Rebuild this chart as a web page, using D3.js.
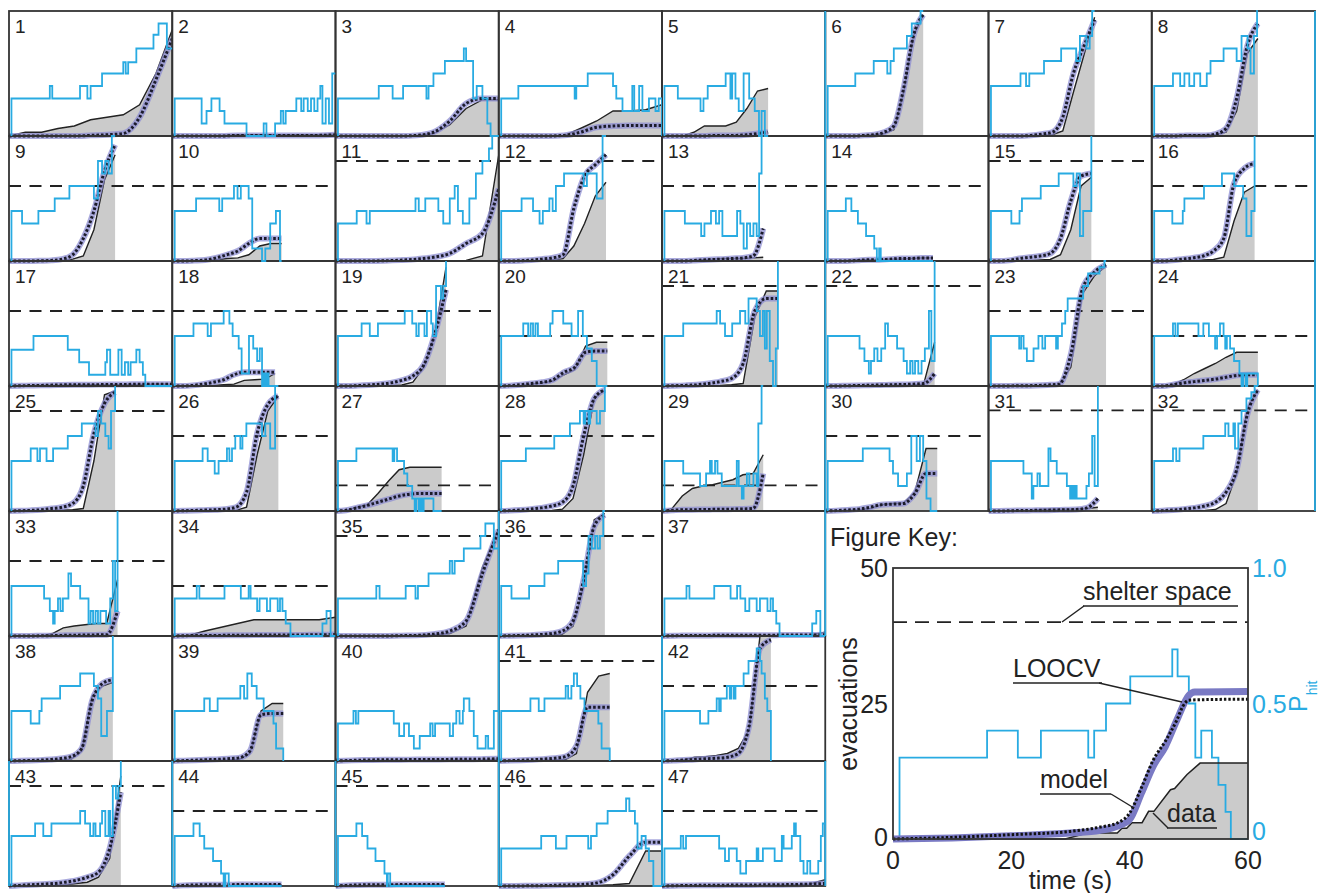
<!DOCTYPE html>
<html><head><meta charset="utf-8">
<script src="https://cdn.jsdelivr.net/npm/d3@7"></script>
<style>body{margin:0;background:#fff}svg{display:block}text{font-family:"Liberation Sans",Arial,Helvetica,sans-serif}</style>
</head><body><svg id="c" width="1322" height="893"></svg>
<script>
// ---------------- DATA (per-panel units: time as % of panel width, values as % of panel height) -------------
const panelLabels = ["1","2","3","4","5","6","7","8","9","10","11","12","13","14","15","16","17","18","19","20","21","22","23","24","25","26","27","28","29","30","31","32","33","34","35","36","37","38","39","40","41","42","43","44","45","46","47"];
// end of recorded data (x, % of panel width)
const dataEnd = [100,100,100,100,65,60,65,65, 65,67,100,65.7,62,66,63,63, 100,63,67.7,66.5,71,67,72,65, 65,65,65,65,62,68.6,67,65, 66.5,100,100,65,100, 63.6,68,100,68,66.7, 68.5,67,67,100,100];
// shelter space level (% of panel height), null = none
const shelterLevel = [null,null,null,null,null,null,null,null, 60,60,80,80,60,60,80,60, 60,60,60,40,80,80,60,40, 80,60,20.5,60,20.5,60,80.5,80.5, 60,40,80,80,null, null,null,null,80,60, 80,60,80,80,60];
// cumulative evacuations, data (11 samples evenly spaced over [0, dataEnd])
const evacData = [
[0,3,3,6,8,13,15,17,25,50,85],[0,0,0,0.5,1,1,1,1,1,1,1.5],[0,0,0,0,0,0.5,2,9,22,29,29],[0,0,0,0,0.3,6,12,20,20,21,25],
[0,0,0,3,8,8,8,11,22,36,38],[0,0,0,0,0.5,1,2,5,35,80,97],[0,0,0,0,0,0.5,1,4,35,65,95],[0,0,0,1,1,1,1,3,20,66,78],
[0,0,0,0,0,0.3,1.5,4,25,65,85],[0,0,0,0.3,1,2,2.5,5,12,14,14],[0,0,0,0,0,0,0,0,0.5,4,85],[0,0,0,0.3,0.5,1,2,12,30,52,63],
[0,0,0,0.5,1,1.5,2,2,2,2.5,3],[0,0,0.5,1,1,1,1.5,1.5,2,2.5,2.5],[0,0,0,0,0.5,0.8,1.2,5,25,60,67],[0,0,0,0,0.5,0.8,1.2,3,32,55,60],
[0,0.3,0.5,0.5,0.8,1,1,1,1.2,1.5,1.5],[0,0,0,0.3,0.5,1,1.5,4.5,5,5.5,10],[0,0,0,0,0.2,0.4,0.8,3,15,42,95],[0,0,0.3,1.5,2.5,4,9,13,32,35,35],
[0,0,0,0.1,0.2,0.4,1,2,55,76,76],[0,0,0,0,0.2,0.4,0.5,0.6,0.8,1.5,35],[0,0,0,0,0.2,0.4,0.7,15,74,88,96],[0,0,1,5,10,14,18,23,27,27,27],
[0,0,0,0.3,0.5,0.8,1,2,40,93,96],[0,0,0,0.2,0.3,0.4,0.5,3,45,80,92],[0,0.5,3,5,14,24,33,35,35,35,35],[0,0,0,0,0.2,0.4,1.5,10,45,90,97],
[0,2,12,18,20,21,23,25,29,30,45],[0,0,0.5,1,2,5,6,6.5,15,50,50],[0,0,0,0.3,0.5,1.5,1.5,1.5,1.5,2,3],[0,0,0,0.1,0.3,0.5,1.2,6,30,82,97],
[0,0,0,0,2,6.5,8,9,10,10,45],[0,0.5,4,7,10,13,13,13,13,13,15],[0,0,0,0,0,0.5,1,2,8,55,86],[0,0,0,0,0.2,0.6,1.5,8,40,93,98],[0,0.2,0.3,0.4,0.5,0.5,0.5,0.5,0.5,0.6,3],
[0,0,0,0,0.5,1,1.5,8,52,60,63],[0,0,0.3,0.5,0.6,0.8,1.2,6,40,46,46],[0,0.2,0.3,0.4,0.5,0.5,0.6,0.6,0.7,0.8,1.5],[0,0,0,0.2,0.5,0.8,1.2,6,55,68,70],[0,0,1,3,3.5,4.5,6,10,25,100,100],
[0,0,0,0.3,0.5,1,2,3,7,22,88],[0,0,0.2,0.3,0.5,0.5,0.6,0.8,1,1,1],[0,0,0.2,0.3,0.5,0.8,1,1,1,1,1],[0,0,0,0,0,0.3,0.5,1,2,28,28],[0,0,0,0.2,0.3,0.4,0.5,0.6,0.8,1.5,5]
];
// model prediction (LOOCV coincides with it in the small panels)
const modelFit = [
[0,0,0,0,0,0.5,1,2,15,45,78],[0,0,0,0,0.5,0.5,0.5,0.5,0.5,0.5,1],[0,0,0,0,0,0.5,3,12,26,30,30],[0,0,0,0,0.5,3,7,8,8.5,8.5,8.5],
[0,0,0,0,0,0.5,0.5,0.5,1,2,3],[0,0,0,0,0.5,1,3,8,38,80,97],[0,0,0,0,0.5,1.5,3,15,50,72,93],[0,0,0,0.3,0.5,0.5,1.5,6,30,72,90],
[0,0,0,0.2,0.5,1.5,5,18,40,72,93],[0,0,0.3,0.8,2.5,5,8,14,18,18,18],[0,0,0,0.2,0.7,1.5,3,6,14,22,58],[0,0,0.2,0.7,1.5,2.5,5,42,68,77,85],
[0,0,0,0.3,0.8,1.2,1.5,2,2.5,4,26],[0,0,0,0.5,1,1,1.5,2,2,2.5,2.5],[0,0,0.5,2,3,4,6,18,48,68,70],[0,0,0.5,1.5,2.5,4,8,18,62,74,78],
[0,0.3,0.5,0.8,1,1,1.2,1.2,1.5,1.5,1.5],[0,0,0.5,1.5,3,5,9,11,11,11,11],[0,0,0.3,0.8,1.5,2.5,4.5,8,17,42,77],[0,0.3,1,2,3,5,11,15,27,28,28],
[0,0.2,0.5,1,2,3.5,6,18,60,70,70],[0,0,0.2,0.4,0.6,0.8,1,1.2,1.5,2,10],[0,0,0.1,0.2,0.4,0.8,1.5,25,78,91,97],[0,0,1,2.5,3.5,4.5,5.5,7,8.5,9,9],
[0,0.2,0.5,1,2,3,6,20,62,86,95],[0,0.2,0.4,0.7,1,1.5,3,15,62,85,92],[0,0.6,2.5,4.5,7,9.5,12,13.5,14,14,14],[0,0.3,0.8,1.5,2.5,4,7,20,60,90,97],
[0,0.5,1,1,1.2,1.3,1.4,1.5,1.6,2,30],[0,0.3,0.8,1.5,3,5,5.5,6,14,30,30],[0,0,0.2,0.4,0.5,0.6,0.8,1,1.2,2.5,10],[0,0.3,0.8,1.5,2.5,4,7,15,33,77,97],
[0,0,0,0.2,0.3,0.5,0.6,0.8,0.9,1,20],[0,0.3,0.5,0.5,0.6,0.7,0.8,0.8,0.9,1,1.2],[0,0,0,0,0.3,0.5,1.5,4,12,50,85],[0,0.2,0.4,0.7,1.2,2,4,12,45,88,97],[0,0.3,0.5,0.5,0.6,0.6,0.7,0.7,0.8,0.8,1],
[0,0.2,0.4,0.7,1.2,2,3.5,10,48,62,65],[0,0.3,0.6,1,1.3,1.8,2.5,8,37,38,38],[0,0.5,0.8,1,1,1.2,1.2,1.3,1.4,1.5,1.8],[0,0.3,0.6,1,1.5,2.2,3.5,12,43,43,43],[0,0.3,0.8,1.2,1.8,2.2,3,6,28,90,97],
[0,0.5,1,1.5,2,3,4.5,7,11,30,75],[0,0.5,0.8,1,1,1,1.2,1.2,1.3,1.3,1.3],[0,0.5,0.8,1,1,1,1.2,1.3,1.3,1.3,1.3],[0,0,0.2,0.4,0.8,1.2,2.5,9,24,35,35],[0,0.3,0.5,0.6,0.7,0.8,0.9,1,1.2,1.5,2]
];
// P_hit step change points: [time%, P%, time%, P%, ...]
const phitSteps = [
[0,30,25,40,26.5,30,43.5,40,48,30,50,40,57,50,70,59,71.5,50,73,59,78,70,88.5,81,91.6,90,96.7,70],
[0,30,18,10,21,20,24,30,29,20,32,10,45.5,0,56,10,57.7,0,63,10,66.5,20,68,10,69.5,20,76,30,79,20,80.5,30,83,20,85,30,87,20,89,30,90.7,40,92,10,94,30,96,10,98,50],
[0,30,26.5,40,35,30,41.4,40,55.7,30,57,40,60,50,67,60,78.6,70,80,60,84.3,30,86.5,40,90,30,93,10,95,0],
[0,30,12,40,46.5,30,47.5,40,54.5,50,70,40,72,30,75.8,20,81.8,40,83,20,86,40,88,20,92,30,96,20,98,30],
[0,40,9.7,30,23.6,20,25.4,30,28,40,39,50,41.9,30,43,50,45,30,47,20,50,50,53.4,30,56.8,20,59.4,0,61,20,63,0],
[0,40,18.4,50,29.7,60,38,50,40,60,42,70,50,80,53,90,58.4,100],
[0,40,19.6,50,23,40,25,50,34,60,44.5,70,53.7,60,56,80,60,70,62,80,63.5,100],
[0,40,13,50,17.4,40,20,50,23,40,26,50,29.7,40,33.7,50,36,60,44,70,52,60,55,80,58.7,70,60.5,50,62.6,80,64.5,100],
[0,40,8,30,18,40,28,50,37,60,52,50,54.5,80,57,70,59,80,61,70,63,100],
[0,40,14.6,50,28.8,40,30.6,50,37.8,60,40,50,42,60,46.8,50,49,10,55,0,57,10,60,30,63.5,40,66,0],
[0,30,13,40,19,30,21,40,49,50,51,40,55,50,63,40,66,30,70,50,73,60,75,40,78,30,82,50,86,70,90,80,94,90,96,100],
[0,40,14,50,21,40,25,30,27,40,31,50,33,40,35,60,40,70,52,60,54,70,60,50,63.6,100],
[0,40,14,30,24,20,26,30,30,40,33,30,35,40,37,20,46,40,48,30,50,10,52,30,54,20,56,30,58,20,59.5,70,61,100],
[0,40,12.6,50,16,40,20,30,25,20,30,10,31.6,0,33,10,34,0],
[0,40,14,30,19,40,20.5,50,32,60,43,70,52,60,54,70,56,20,58,40],
[0,40,12.6,30,19,40,20,50,32,60,43,70,50.5,60,56,50,58,20,61,40],
[0,29,15,40,36,29,43,19,49,9,59,19,60,29,62,9,67,29,69,9,71,19,73,9,74.5,19,78,29,80,19,82,9,83.5,0],
[0,40,13,50,21.7,40,23.7,50,31.5,60,35,50,37,40,40.7,30,42.5,10,47,40,49.6,30,52,20,53.6,30,55,0,56,10,57,0,58,10,59,0],
[0,40,16,50,21,40,26,50,42.4,60,47,50,49.5,40,51,50,54.5,40,56,60,58.6,50,59.6,40,61.6,80,64.6,70,66,80],
[0,40,15,50,18,40,19.5,50,21,40,22.5,50,24,40,31.5,50,33,60,39.5,50,44.6,40,48.6,60,51.5,40,54,30,57,20,60,0],
[0,40,13,50,33.5,60,35.6,50,38.6,40,43,50,47.8,60,51,50,53,70,58,60,60,40,61.8,60,63,30,64.2,60,66,20,68,0,69.7,30],
[0,40,21,30,24,20,26.7,10,28,20,30,30,32,20,34.3,30,36.7,50,38.4,40,44,30,48,20,50,10,52,20,53.5,10,55,20,57,10,59,20,61,30,63.5,60,65,20],
[0,40,18.8,30,20,40,21.5,30,23.5,20,27.6,30,30.6,40,33,30,34.7,40,41.4,30,42.5,40,45,50,47,60,48.5,70,58,80,61,90,68,95,71,100],
[0,40,13,50,14.5,40,16,50,28.6,40,31.6,50,35,40,38.8,30,40,40,41.8,50,44,40,45,30,46,40,48,30,50.4,20,53.7,10,55,0,56,10,57.5,0,58.5,10],
[0,40,13.3,50,17.4,40,19,50,23,40,27,50,36,60,44.6,70,53,60,54.5,80,56.5,70,59,60,61,50,62.5,80],
[0,40,18.6,50,21.7,40,26,30,28.4,40,33.5,50,35,40,36.6,50,38.6,60,41.7,50,43,60,45.4,70,55,60,57,70,60,50,63,100],
[0,40,12.8,50,35,40,36,50,37.7,40,42,30,44,20,47,10,48.5,0,49.5,10,51,0,52,10,53,0,54,10,60,0],
[0,40,16.6,50,34,60,43.6,70,49.7,80,52,70,53,80,55,70,56,80,60,70,62,80],
[0,40,13,30,23.3,20,27,30,29.4,40,30.5,30,32.5,40,34,30,36.6,20,45.8,40,47,20,48.9,10,50,20,52,30,53.5,20,56,30,58,20,59,70,61,100],
[0,40,23,50,39.4,40,41.5,30,44.6,20,50,30,52.7,60,56,40,58,60,60,40,62,10,64.5,0],
[0,40,21.4,30,26.5,10,27.5,20,30,30,31.5,20,36.7,50,38,40,41.8,30,48,20,50,10,51,20,52,10,53,20,54,10,58,10,60,20,61.5,30,63.5,60,65,20],
[0,40,13,50,15,40,17,50,31.6,60,45,70,47,60,50,70,51,50,53,70,55,80,58,90,61,95,63,100],
[0,40,21.5,30,25,20,27,10,28,20,30,30,31.5,20,33,30,36.4,50,38,40,43.6,30,48.7,10,50,20,51.5,10,53,20,54.5,10,56,20,59.5,10,62,30,63.6,60,65,20],
[0,30,15,40,16.6,30,32,40,42,30,46.8,40,48,30,52,20,53.5,30,58,20,60,30,64.6,20,66,30,67.5,20,69.5,10,72.4,0,92,10,94.5,20,97,0],
[0,30,25,40,27,30,43,40,49,30,50.5,40,57,50,70,60,71.5,50,73,60,78.6,70,88.8,80,91.8,90,97,70],
[0,40,7.8,30,18.6,40,28,50,36.4,60,51.7,40,53.5,50,55,80,57,70,59,80,60.5,70,62,80,64,100],
[0,30,15,40,16.8,30,32,40,42,30,46,40,48,30,51,20,53.5,30,58,20,60,30,64.6,20,66.5,30,68,20,70,10,72,0,92,10,94.5,20,97,0],
[0,40,13.3,30,18.6,40,20,50,31.3,60,43.6,70,52,60,54.5,50,56.5,20,60,40,62,40],
[0,40,19.6,50,23,40,27.8,50,41.7,60,44,50,46,70,48.7,60,51.7,50,56,40,62,30,63.6,10],
[0,30,11,40,12.5,30,14,40,35.7,30,39,20,42,30,45,20,48,10,51.6,20,58,30,59.5,20,61,30,70,20,72,30,74,40,76,30,78,40,78.6,50,82,40,84.7,20,87,10,92,20,93.5,10,97,40],
[0,40,19.4,50,24.5,40,28,50,41,60,42.5,50,44.5,60,46,70,48,60,50,50,52.5,40,61,30,63,10],
[0,40,23.3,30,28.4,40,33.5,50,35,40,36,50,39.7,60,41.5,50,42.5,60,44,50,45,60,50,70,53,80,58,90,60,80,61,70,63,50,64.5,40],
[0,40,16,50,21,40,26,50,43.6,60,46.6,50,49.7,40,51.7,50,53,40,55.8,50,57,60,59,40,61,60,62,40,63.6,80,65.5,70,67,80],
[0,40,13,50,16.8,40,19.6,30,25,20,29.9,10,31.5,0,32.5,10,34.6,0],
[0,40,12.8,50,16.3,40,19.6,30,24.5,20,30,10,31.5,0,32,10,33.5,0],
[0,30,26,40,35,30,41.5,40,54.8,30,56.5,40,60,50,66.7,60,78,70,80,60,83.4,50,85,30,87.5,40,90,30,92,20,94.7,0],
[0,30,11.5,40,13,30,14.7,40,35,30,38.6,20,41,30,45.8,20,48,10,51.5,20,58,30,59,20,61.8,30,69,20,73.4,40,74.5,30,79.5,40,80.9,50,82,40,84.7,20,86.7,10,89,20,90.8,10,95.7,20,97.3,40,98.5,50]
];
// final P_hit value where the trace ends (vertical at dataEnd)
const phitEnd = [70,50,0,0,0,100,100,100, 100,0,100,100,100,0,100,100, 0,0,100,0,100,100,100,0, 100,100,0,100,100,0,100,100, 100,0,70,100,0, 100,0,40,0,0, 100,0,0,0,50];

// ---- Figure key (time in s, evacuations, P_hit 0..1) ----
const keyDataT = [0,29.1,32.8,37.9,38.7,39.5,40.4,42.1,43.2,44.1,46.9,47.6,49.7,51.9,60];
const keyDataV = [0,0,1.1,1.1,2,2,3,3,5.1,5.1,9.1,9.3,11.9,14,14];
const keyModelT = [0,10,20,30,35,38,40,42,44,46,48,49,50,52,60];
const keyModelV = [0,0.3,0.8,1.4,2.2,3,4.8,9.5,14.6,18,22,24.5,25.6,25.7,25.8];
const keyLoocvT = [0,10,20,30,35,38,40,42,44,46,48,50,51,60];
const keyLoocvV = [0,0.2,0.6,1.1,1.6,2.4,3.6,8.5,13.5,17,22,26.5,27.1,27.2];
const keyPhitT = [0,1.1,15.9,21.1,25,33,34,36,40.1,47.2,48.1,50,51.1,52.1,53.9,55,56.2,57.1,60];
const keyPhitV = [0,0.3,0.4,0.3,0.4,0.3,0.4,0.5,0.6,0.7,0.6,0.5,0.3,0.4,0.3,0.2,0.1,0,0];
const keyShelter = 40;
const keyXTicks = [0,20,40,60];
const keyYTicks = [0,25,50];
const keyPTicks = [{v:0,l:"0"},{v:0.5,l:"0.5"},{v:1,l:"1.0"}];

// ---------------- DRAWING ----------------
const svg = d3.select('#c');
const BLUE = '#29abe2', FILL = '#cbcbcb', PURPLE = '#8e8ed2', INK = '#222';
const X0 = 9, CW = 163.25, Y0 = 11, RH = 125;
const defs = svg.append('defs');

function stepPts(steps, T, E, start) {
  const pts = [[start, 0]];
  for (let k = 0; k < steps.length; k += 2) {
    const px = k === 0 ? start : steps[k], pv = steps[k + 1];
    if (k > 0) pts.push([px, steps[k - 1]]);
    pts.push([px, pv]);
  }
  pts.push([T, steps[steps.length - 1]]);
  pts.push([T, E]);
  return pts;
}

const gPanels = svg.append('g');
const gBorders = svg.append('g');
const gBlue = svg.append('g');
const gLabels = svg.append('g');

panelLabels.forEach((lab, i) => {
  let row, col;
  if (i < 32) { row = Math.floor(i / 8); col = i % 8; }
  else { const j = i - 32; row = 4 + Math.floor(j / 5); col = j % 5; }
  const L = X0 + col * CW, Tp = Y0 + row * RH;
  const x = d3.scaleLinear().domain([0, 100]).range([L, L + CW]);
  const y = d3.scaleLinear().domain([0, 100]).range([Tp + RH, Tp]);
  const T = dataEnd[i];
  const tAt = k => k * T / 10;

  defs.append('clipPath').attr('id', 'cp' + i).append('rect')
    .attr('x', L).attr('y', Tp - 1).attr('width', CW).attr('height', RH + 4);
  const g = gPanels.append('g').attr('clip-path', `url(#cp${i})`);

  g.append('path').datum(evacData[i])
    .attr('d', d3.area().x((d, k) => x(tAt(k))).y0(y(0)).y1(d => y(d)))
    .attr('fill', FILL);
  if (shelterLevel[i] !== null) {
    g.append('line').attr('x1', x(0)).attr('x2', x(100))
      .attr('y1', y(shelterLevel[i])).attr('y2', y(shelterLevel[i]))
      .attr('stroke', INK).attr('stroke-width', 1.8).attr('stroke-dasharray', '12,8.5');
  }
  g.append('path').datum(evacData[i])
    .attr('d', d3.line().x((d, k) => x(tAt(k))).y(d => y(d)))
    .attr('fill', 'none').attr('stroke', INK).attr('stroke-width', 1.4);
  const ml = d3.line().x((d, k) => x(tAt(k))).y(d => y(d)).curve(d3.curveMonotoneX);
  g.append('path').datum(modelFit[i]).attr('d', ml)
    .attr('fill', 'none').attr('stroke', PURPLE).attr('stroke-width', 6).attr('stroke-opacity', 0.75)
    .attr('stroke-linejoin', 'round');
  g.append('path').datum(modelFit[i]).attr('d', ml)
    .attr('fill', 'none').attr('stroke', '#1b1b2a').attr('stroke-width', 3).attr('stroke-dasharray', '2.6,2');

  gBorders.append('rect').attr('x', L).attr('y', Tp).attr('width', CW).attr('height', RH)
    .attr('fill', 'none').attr('stroke', '#333').attr('stroke-width', 1.8);

  const gp = gBlue.append('g').attr('clip-path', `url(#cp${i})`);
  gp.append('path').datum(stepPts(phitSteps[i], T, phitEnd[i], 1.5))
    .attr('d', d3.line().x(d => x(d[0])).y(d => y(d[1])))
    .attr('fill', 'none').attr('stroke', BLUE).attr('stroke-width', 1.8);

  gLabels.append('text').attr('x', L + 6).attr('y', Tp + 22)
    .attr('font-size', 19).attr('fill', INK).text(lab);
});

// blue panel edges (right P_hit axes showing through)
const blueEdges = [[5,0],[5,1],[5,2],[5,3],[8,0],[8,1],[8,2],[8,3],[3,4],[5,4],[3,5],[4,5],[0,6],[1,6],[2,6],[3,6],[4,6],[5,6]];
blueEdges.forEach(([c, r]) => {
  gBlue.append('line').attr('x1', X0 + c * CW).attr('x2', X0 + c * CW)
    .attr('y1', Y0 + r * RH).attr('y2', Y0 + (r + 1) * RH)
    .attr('stroke', BLUE).attr('stroke-width', 1.8);
});

// ---------------- FIGURE KEY ----------------
const K = svg.append('g');
const kx = d3.scaleLinear().domain([0, 60]).range([893, 1248]);
const ky = d3.scaleLinear().domain([0, 50]).range([839, 568]);
const kp = d3.scaleLinear().domain([0, 1]).range([839, 568]);
const FS = 25;

K.append('text').attr('x', 830).attr('y', 546).attr('font-size', FS).attr('fill', INK).text('Figure Key:');

const kd = keyDataT.map((t, k) => [t, keyDataV[k]]);
K.append('path').datum(kd).attr('d', d3.area().x(d => kx(d[0])).y0(ky(0)).y1(d => ky(d[1]))).attr('fill', FILL);
K.append('line').attr('x1', kx(0)).attr('x2', kx(60)).attr('y1', ky(keyShelter)).attr('y2', ky(keyShelter))
  .attr('stroke', INK).attr('stroke-width', 1.8).attr('stroke-dasharray', '14,8');
const kpts = [];
keyPhitT.forEach((t, k) => { if (k > 0) kpts.push([t, keyPhitV[k - 1]]); kpts.push([t, keyPhitV[k]]); });
K.append('path').datum(kpts).attr('d', d3.line().x(d => kx(d[0])).y(d => kp(d[1])))
  .attr('fill', 'none').attr('stroke', BLUE).attr('stroke-width', 1.8);
K.append('path').datum(kd).attr('d', d3.line().x(d => kx(d[0])).y(d => ky(d[1])))
  .attr('fill', 'none').attr('stroke', INK).attr('stroke-width', 1.5);
K.append('path').datum(keyLoocvT.map((t, k) => [t, keyLoocvV[k]]))
  .attr('d', d3.line().x(d => kx(d[0])).y(d => ky(d[1])).curve(d3.curveMonotoneX))
  .attr('fill', 'none').attr('stroke', '#7a7ac4').attr('stroke-width', 7).attr('stroke-linejoin', 'round');
K.append('path').datum(keyModelT.map((t, k) => [t, keyModelV[k]]))
  .attr('d', d3.line().x(d => kx(d[0])).y(d => ky(d[1])).curve(d3.curveMonotoneX))
  .attr('fill', 'none').attr('stroke', '#111').attr('stroke-width', 3).attr('stroke-dasharray', '2.4,2');
K.append('rect').attr('x', kx(0)).attr('y', ky(50)).attr('width', kx(60) - kx(0)).attr('height', ky(0) - ky(50))
  .attr('fill', 'none').attr('stroke', '#333').attr('stroke-width', 1.8);

keyYTicks.forEach(v => K.append('text').attr('x', 888).attr('y', Math.min(ky(v) + 9, 846)).attr('text-anchor', 'end')
  .attr('font-size', FS).attr('fill', INK).text(v));
keyXTicks.forEach(v => K.append('text').attr('x', kx(v)).attr('y', 869).attr('text-anchor', 'middle')
  .attr('font-size', FS).attr('fill', INK).text(v));
keyPTicks.forEach(d => K.append('text').attr('x', 1252).attr('y', Math.min(kp(d.v) + 9, 840))
  .attr('font-size', FS).attr('fill', BLUE).text(d.l));
K.append('text').attr('x', kx(30)).attr('y', 889).attr('text-anchor', 'middle').attr('font-size', FS).attr('fill', INK).text('time (s)');
K.append('text').attr('transform', 'translate(857,704) rotate(-90)').attr('text-anchor', 'middle')
  .attr('font-size', FS).attr('fill', INK).text('evacuations');
const ph = K.append('text').attr('transform', 'translate(1307,712) rotate(-90)').attr('font-size', FS).attr('fill', BLUE);
ph.append('tspan').text('P');
ph.append('tspan').attr('dy', 10).attr('font-size', 14).text('hit');

// annotations
const ann = [
  {t: 'shelter space', x: 1083, y: 600, w: 155, lx: 1084, ly: 606, tx: 1062, ty: 622},
  {t: 'LOOCV', x: 1013, y: 677, w: 89, lx: 1099, ly: 683, tx: 1182, ty: 702},
  {t: 'model', x: 1040, y: 788, w: 71, lx: 1111, ly: 794, tx: 1134, ty: 808},
  {t: 'data', x: 1167, y: 822, w: 50, lx: 1168, ly: 828, tx: 1153, ty: 813}
];
ann.forEach(a => {
  K.append('text').attr('x', a.x).attr('y', a.y).attr('font-size', FS).attr('fill', INK).text(a.t);
  K.append('line').attr('x1', a.x).attr('x2', a.x + a.w).attr('y1', a.ly).attr('y2', a.ly).attr('stroke', INK).attr('stroke-width', 1.4);
  K.append('line').attr('x1', a.lx).attr('y1', a.ly).attr('x2', a.tx).attr('y2', a.ty).attr('stroke', INK).attr('stroke-width', 1.4);
});
</script></body></html>
